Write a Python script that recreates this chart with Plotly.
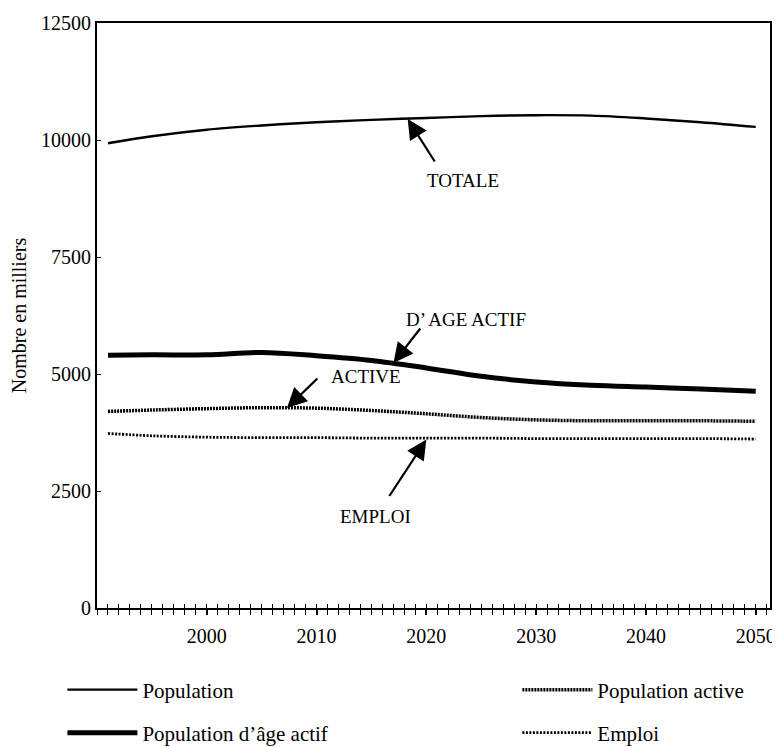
import plotly.graph_objects as go

years = [1991, 1995, 2000, 2005, 2010, 2015, 2020, 2025, 2030, 2035, 2040, 2045, 2050]
pop_totale = [9930, 10080, 10220, 10310, 10380, 10430, 10470, 10510, 10530, 10520, 10460, 10380, 10280]
pop_age_actif = [5400, 5410, 5410, 5460, 5390, 5290, 5130, 4950, 4830, 4760, 4720, 4680, 4630]
pop_active = [4200, 4230, 4260, 4280, 4270, 4220, 4150, 4070, 4020, 4000, 4000, 4000, 3990]
emploi = [3730, 3680, 3650, 3640, 3640, 3630, 3630, 3630, 3620, 3620, 3620, 3620, 3610]

series_names = ["Population", "Population active", "Population d’âge actif", "Emploi"]
y_ticks = [0, 2500, 5000, 7500, 10000, 12500]
x_ticks = [2000, 2010, 2020, 2030, 2040, 2050]

FONT = "Liberation Serif"
X_RANGE = [1990, 2051.3]

fig = go.Figure()
fig.add_trace(go.Scatter(x=years, y=pop_totale, name=series_names[0], mode="lines",
                         line=dict(color="black", width=2.4, shape="spline"), legend="legend"))
fig.add_trace(go.Scatter(x=years, y=pop_active, name=series_names[1], mode="lines",
                         line=dict(color="black", width=3.5, dash="2px,1px", shape="spline"), legend="legend2"))
fig.add_trace(go.Scatter(x=years, y=pop_age_actif, name=series_names[2], mode="lines",
                         line=dict(color="black", width=5, shape="spline"), legend="legend3"))
fig.add_trace(go.Scatter(x=years, y=emploi, name=series_names[3], mode="lines",
                         line=dict(color="black", width=2.8, dash="2px,1.5px", shape="spline"), legend="legend4"))
# invisible helper trace for the inside year ticks axis
fig.add_trace(go.Scatter(x=years, y=emploi, xaxis="x2", mode="lines", line=dict(width=0),
                         opacity=0, showlegend=False, hoverinfo="skip"))

def arrow(x, y, ax, ay):
    fig.add_annotation(x=x, y=y, ax=ax, ay=ay, text="", showarrow=True,
                       arrowhead=2, arrowsize=1.8, arrowwidth=2.2, arrowcolor="black")

arrow(2018.3, 10449, 28, 44)
arrow(2017.0, 5235, 28, -36)
arrow(2007.3, 4274, 32, -31)
arrow(2020.0, 3600, -38, 58)

def label(x, y, t):
    fig.add_annotation(x=x, y=y, text=t, showarrow=False,
                       font=dict(family=FONT, size=19, color="black"))

label(2023.3, 9145, "TOTALE")
label(2023.6, 6154, "D’ AGE ACTIF")
label(2014.5, 4957, "ACTIVE")
label(2015.4, 1960, "EMPLOI")

LEG_FONT = dict(family=FONT, size=21, color="black")
def leg(x, y):
    return dict(orientation="h", xref="container", yref="container",
                x=x, xanchor="left", y=y, yanchor="middle",
                itemwidth=70, font=LEG_FONT, bgcolor="rgba(0,0,0,0)", borderwidth=0)

fig.update_layout(
    width=772, height=739,
    margin=dict(l=89, r=10, t=15, b=139),
    paper_bgcolor="white", plot_bgcolor="white",
    font=dict(family=FONT, size=20, color="black"),
    xaxis=dict(range=X_RANGE, tickvals=x_ticks, ticktext=[str(v) for v in x_ticks],
               ticks="outside", ticklen=5, tickwidth=1.5, tickcolor="black",
               minor=dict(dtick=1, tick0=1990, ticks="outside", ticklen=5, tickwidth=1.2, tickcolor="black"),
               showline=True, linecolor="black", linewidth=2, mirror=True, automargin=False,
               showgrid=False, zeroline=False, ticklabelstandoff=4,
               tickfont=dict(family=FONT, size=20)),
    xaxis2=dict(range=X_RANGE, overlaying="x", anchor="y", side="bottom", automargin=False,
                dtick=1, tick0=1990, ticks="inside", ticklen=4, tickwidth=1.2, tickcolor="black",
                showticklabels=False, showline=False, showgrid=False, zeroline=False),
    yaxis=dict(range=[0, 12500], tickvals=y_ticks, ticktext=[str(v) for v in y_ticks],
               ticks="inside", ticklen=4, ticklabelstandoff=0, automargin=False,
               tickcolor="black", showline=True, linecolor="black", linewidth=2,
               mirror=True, showgrid=False, zeroline=False,
               tickfont=dict(family=FONT, size=20),
               title=dict(text="Nombre en milliers", font=dict(family=FONT, size=20), standoff=12)),
    legend=leg(0.0705, 0.0771),
    legend2=leg(0.6598, 0.0771),
    legend3=leg(0.0705, 0.0189),
    legend4=leg(0.6598, 0.0189),
    showlegend=True,
)

fig.write_html("out.html")
